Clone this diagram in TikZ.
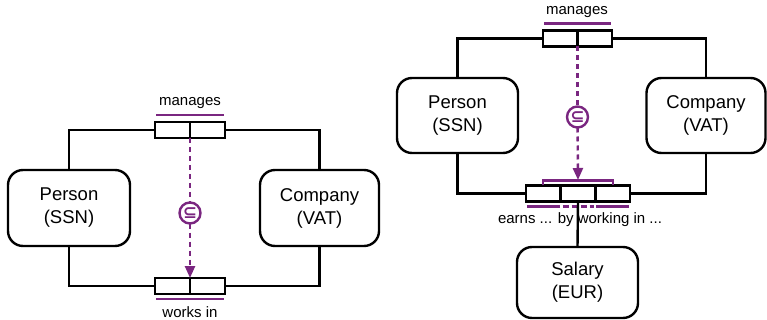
\documentclass[tikz,border=0pt]{standalone}
\usepackage{fontspec}
\setmainfont{Liberation Sans}
\newfontfamily\symbolfont{DejaVu Sans}
\usetikzlibrary{arrows.meta}
\definecolor{orm}{RGB}{122,38,128}
\begin{document}
\begin{tikzpicture}[x=1pt,y=-1pt,
  every node/.style={inner sep=0pt, outer sep=0pt},
  entity/.style={draw, line width=2.4pt, rounded corners=15pt, align=center,
    font=\fontsize{18.5}{23}\selectfont},
  role/.style={draw, line width=2.4pt, minimum height=16pt, fill=white},
  link/.style={line width=2.4pt},
  uniq/.style={orm, line width=2.4pt},
  lbl/.style={font=\fontsize{15}{18}\selectfont},
  subsetc/.style={circle, draw=orm, line width=2.4pt, minimum size=21pt, fill=white,
    text=orm, font=\symbolfont\bfseries\fontsize{17}{17}\selectfont},
  subline/.style={orm, line width=2.4pt, dash pattern=on 5pt off 4pt},
  subarrow/.style={subline, -{Triangle[length=12pt,width=10pt]}}
]
\useasboundingbox (0,0) rectangle (767,320);

% ---------- binary fact types ----------
\node[entity, minimum width=122pt, minimum height=76pt] (p1) at (69,208) {Person\\(SSN)};
\node[entity, minimum width=119pt, minimum height=76pt] (c1) at (319.5,208) {Company\\(VAT)};

\node[role, minimum width=35pt] (m1) at (172.5,130) {};
\node[role, minimum width=35pt] (m2) at (207.5,130) {};
\node[role, minimum width=35pt] (w1) at (172.5,286) {};
\node[role, minimum width=35pt] (w2) at (207.5,286) {};

\draw[link] (m1.west) -| (p1.north);
\draw[link] (m2.east) -| (c1.north);
\draw[link] (w1.west) -| (p1.south);
\draw[link] (w2.east) -| (c1.south);

\draw[uniq] ([xshift=1pt,yshift=7pt]m1.north west) -- ([xshift=-1pt,yshift=7pt]m2.north east);
\draw[uniq] ([xshift=1pt,yshift=-5pt]w1.south west) -- ([xshift=-1pt,yshift=-5pt]w2.south east);

\node[lbl] (lm1) at (190,103) {manages};
\node[lbl] (lw1) at (190,312) {works in};

\node[subsetc] (s1) at (190,213) {⊆};
\draw[subline] (m1.south east) -- (s1);
\draw[subarrow] (s1) -- (w1.north east);

% ---------- ternary fact type ----------
\node[entity, minimum width=121pt, minimum height=75pt] (p2) at (457.5,115.5) {Person\\(SSN)};
\node[entity, minimum width=119pt, minimum height=75pt] (c2) at (706,115.5) {Company\\(VAT)};
\node[entity, minimum width=121pt, minimum height=71pt] (sal) at (577.5,282.5) {Salary\\(EUR)};

\node[role, minimum width=34.5pt] (rm1) at (560.25,38.5) {};
\node[role, minimum width=34.5pt] (rm2) at (594.75,38.5) {};
\node[role, minimum width=34.7pt] (t1) at (543.3,193.5) {};
\node[role, minimum width=34.7pt] (t2) at (578,193.5) {};
\node[role, minimum width=34.7pt] (t3) at (612.7,193.5) {};

\draw[link] (rm1.west) -| (p2.north);
\draw[link] (rm2.east) -| (c2.north);
\draw[link] (t1.west) -| (p2.south);
\draw[link] (t3.east) -| (c2.south);

\draw[uniq] ([xshift=1pt,yshift=7pt]rm1.north west) -- ([xshift=-1pt,yshift=7pt]rm2.north east);
\draw[uniq] ([xshift=1pt,yshift=-5pt]t1.south west) -- ([xshift=-1pt,yshift=-5pt]t1.south east);
\draw[uniq, dash pattern=on 6pt off 3pt] ([xshift=2pt,yshift=-5pt]t2.south west) -- ([xshift=-1pt,yshift=-5pt]t2.south east);
\draw[uniq] ([xshift=1pt,yshift=-5pt]t3.south west) -- ([xshift=-1pt,yshift=-5pt]t3.south east);

% role bracket for the subset target (roles 1 and 3)
\draw[orm, line width=2.2pt] (t1.north) -- ++(0,-5) coordinate (b1) -| (t3.north);
\coordinate (br) at (578,180);

\node[lbl] (lm2) at (577,12) {manages};
\node[lbl] (lt) at (580,220) {earns ... by working in ...};

\draw[link] (t2.south) -- (sal.north);

\node[subsetc] (s2) at (577.5,117) {⊆};
\draw[subline] (rm1.south east) -- (s2);
\draw[subarrow] (s2) -- (br);
\end{tikzpicture}
\end{document}
